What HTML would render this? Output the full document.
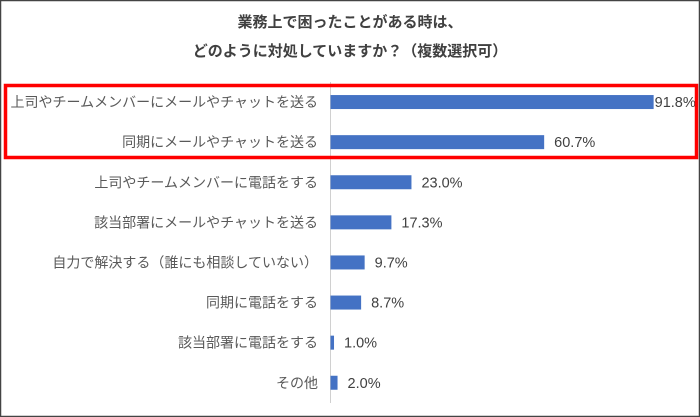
<!DOCTYPE html>
<html><head><meta charset="utf-8"><style>
body{margin:0;background:#fff}
#c{position:relative;width:700px;height:417px;overflow:hidden;font-family:"Liberation Sans","Noto Sans CJK JP",sans-serif}
</style></head><body>
<div id="c">
<svg id="s" width="700" height="417">
<rect x="0.5" y="0.5" width="699" height="416" fill="#fff" stroke="#444" stroke-width="1.5"/>
<text x="350" y="27" text-anchor="middle" font-size="15" font-weight="bold" fill="#404040">業務上で困ったことがある時は、</text>
<text x="350" y="56" text-anchor="middle" font-size="15" font-weight="bold" fill="#404040">どのように対処していますか？（複数選択可）</text>
<line x1="330.5" y1="82" x2="330.5" y2="403" stroke="#d0d0d0" stroke-width="1"/>
<g id="bars"></g>
<rect x="5.5" y="85.5" width="691" height="72" fill="none" stroke="#ff0000" stroke-width="3.5"/>
</svg>
</div>
<script>
const categories=["上司やチームメンバーにメールやチャットを送る","同期にメールやチャットを送る","上司やチームメンバーに電話をする","該当部署にメールやチャットを送る","自力で解決する（誰にも相談していない）","同期に電話をする","該当部署に電話をする","その他"];
const values=[91.8,60.7,23.0,17.3,9.7,8.7,1.0,2.0];
const valueLabels=["91.8%","60.7%","23.0%","17.3%","9.7%","8.7%","1.0%","2.0%"];
const x0=330.5,scale=3.52,yTop=82,rowH=40.1,barH=14;
const xs=v=>v*scale;
const ys=i=>yTop+rowH*(i+0.5);
const g=document.getElementById('bars');
const NS='http://www.w3.org/2000/svg';
categories.forEach((c,i)=>{
  const cy=ys(i);
  const t=document.createElementNS(NS,'text');
  t.setAttribute('x',318);t.setAttribute('y',cy+5);t.setAttribute('text-anchor','end');
  t.setAttribute('font-size','14');t.setAttribute('fill','#595959');t.textContent=c;
  
  
  g.appendChild(t);
  const r=document.createElementNS(NS,'rect');
  r.setAttribute('x',x0);r.setAttribute('y',cy-barH/2);r.setAttribute('width',xs(values[i]));r.setAttribute('height',barH);
  r.setAttribute('fill','#4472c4');
  
  
  g.appendChild(r);
  const v=document.createElementNS(NS,'text');
  v.setAttribute('x',x0+xs(values[i])+(values[i]>90?1:10));v.setAttribute('y',cy+5);
  v.setAttribute('font-size','14.5');v.setAttribute('fill','#404040');v.textContent=valueLabels[i];
  
  
  g.appendChild(v);
});
</script>
</body></html>
